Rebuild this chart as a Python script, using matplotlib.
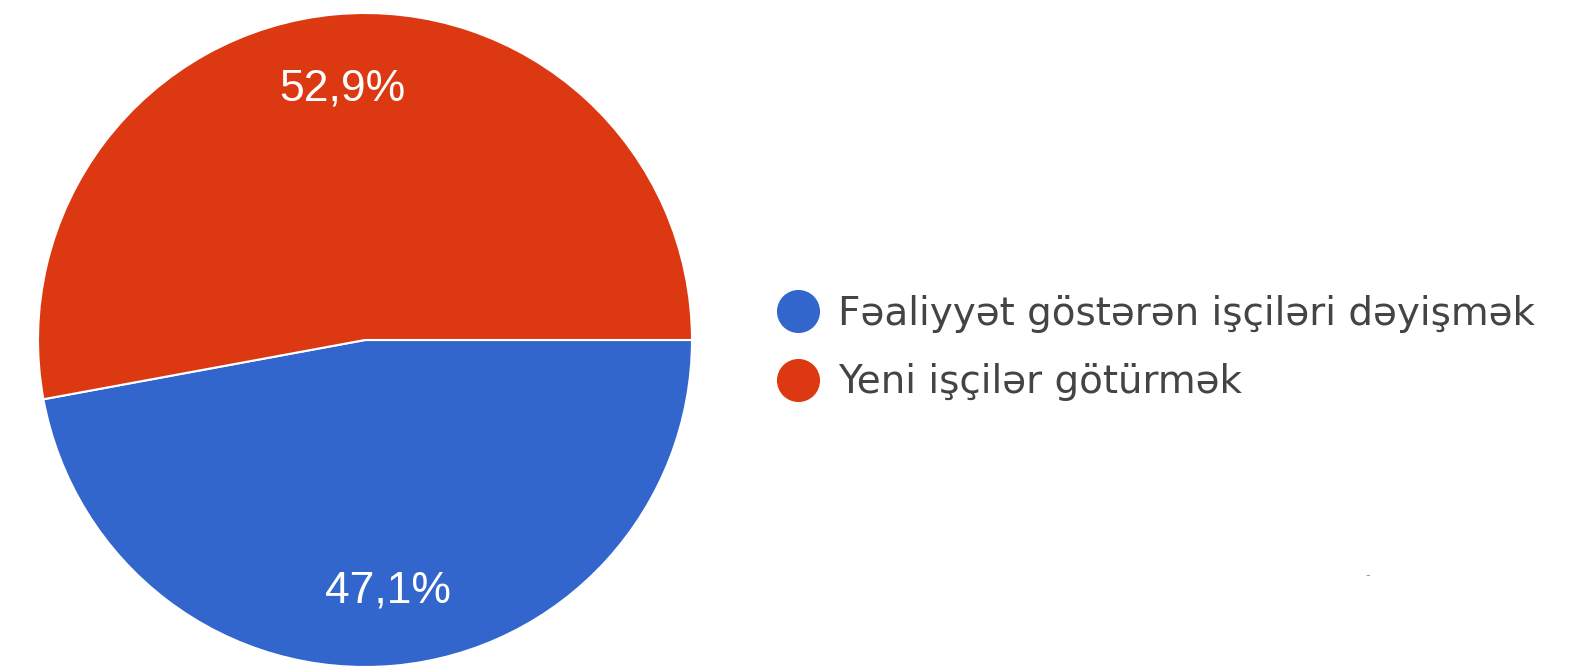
import matplotlib.pyplot as plt
from matplotlib.lines import Line2D

labels = ["Fəaliyyət göstərən işçiləri dəyişmək", "Yeni işçilər götürmək"]
values = [47.1, 52.9]
colors = ["#3366CC", "#DC3912"]

plt.rcParams['font.family'] = ['Liberation Sans', 'DejaVu Sans']

fig = plt.figure(figsize=(15.71, 6.67), dpi=100)
ax = fig.add_axes([38 / 1571, 0, 654 / 1571, 654 / 667])

wedges, texts, autotexts = ax.pie(
    values, colors=colors, startangle=0, counterclock=False,
    autopct=lambda p: f"{p:.1f}%".replace(".", ","), pctdistance=0.77,
    wedgeprops=dict(edgecolor="white", linewidth=1.5),
    textprops=dict(color="white", fontsize=32))
ax.set_xlim(-1, 1)
ax.set_ylim(-1, 1)
ax.set_aspect("equal")
ax.axis("off")

handles = [Line2D([], [], marker="o", linestyle="", markersize=30,
                  markerfacecolor=c, markeredgecolor=c) for c in colors]
fig.legend(handles, labels, loc="center left", bbox_to_anchor=(775 / 1571, 1 - 348 / 667),
           frameon=False, prop=dict(family="DejaVu Sans", size=28), labelcolor="#444444",
           handletextpad=0.42, labelspacing=0.78, handlelength=1.2, borderaxespad=0,
           borderpad=0)

fig.text(1368 / 1571, 1 - 575 / 667, "-", color="#999999", fontsize=10, ha="center", va="center")

fig.savefig("out.png", dpi=100)
